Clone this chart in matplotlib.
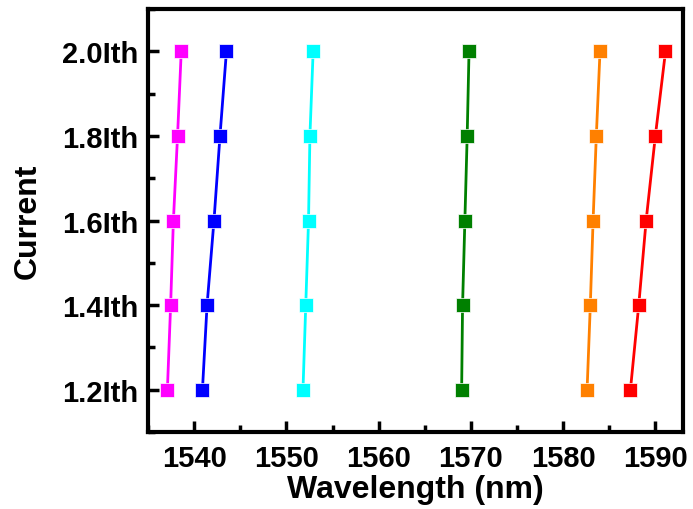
import matplotlib
matplotlib.use('Agg')
import matplotlib.pyplot as plt
from matplotlib.ticker import MultipleLocator

plt.rcParams['font.family'] = ['Liberation Sans', 'DejaVu Sans']
plt.rcParams['font.weight'] = 'bold'

# Current levels (multiples of threshold current)
current = [1.2, 1.4, 1.6, 1.8, 2.0]
current_labels = ['1.2Ith', '1.4Ith', '1.6Ith', '1.8Ith', '2.0Ith']

# Peak wavelengths (nm) for each mode
wl_magenta = [1537.1, 1537.45, 1537.75, 1538.2, 1538.6]
wl_blue = [1540.9, 1541.4, 1542.15, 1542.8, 1543.5]
wl_cyan = [1551.8, 1552.1, 1552.4, 1552.55, 1552.9]
wl_green = [1569.0, 1569.1, 1569.35, 1569.6, 1569.8]
wl_orange = [1582.6, 1582.95, 1583.25, 1583.6, 1584.0]
wl_red = [1587.3, 1588.2, 1589.0, 1590.0, 1591.1]

series = [(wl_magenta, '#FF00FF'), (wl_blue, '#0000FF'), (wl_cyan, '#00FFFF'),
          (wl_green, '#008000'), (wl_orange, '#FF8000'), (wl_red, '#FF0000')]

fig = plt.figure(figsize=(6.93, 5.10), dpi=100)
ax = fig.add_axes([0.2136, 0.151, 0.772, 0.829])

for wl, c in series:
    ax.plot(wl, current, '-s', color=c, lw=2, ms=9.5, mec='white', mew=0.5)

ax.set_xlim(1535, 1593)
ax.set_ylim(1.1, 2.1)
ax.xaxis.set_major_locator(MultipleLocator(10))
ax.xaxis.set_minor_locator(MultipleLocator(5))
ax.set_yticks(current)
ax.set_yticklabels(current_labels)
ax.yaxis.set_minor_locator(MultipleLocator(0.1))

ax.tick_params(which='both', direction='in', width=2.5, labelsize=21)
ax.tick_params(which='major', length=8)
ax.tick_params(axis='x', pad=9)
ax.tick_params(axis='y', pad=7)
ax.tick_params(which='minor', length=5)
for s in ax.spines.values():
    s.set_linewidth(3)

ax.set_xlabel('Wavelength (nm)', fontsize=23, fontweight='bold', labelpad=1)
ax.set_ylabel('Current', fontsize=23, fontweight='bold', labelpad=14)

fig.savefig('out.png', dpi=100)
